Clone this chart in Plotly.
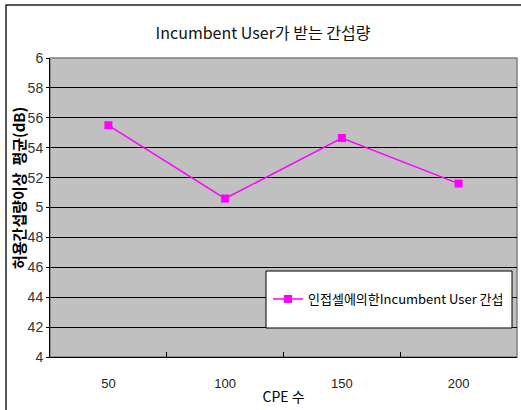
import plotly.graph_objects as go

# data
cpe_counts = ["50", "100", "150", "200"]
interference = [55.5, 50.6, 54.65, 51.6]
y_tickvals = [40, 42, 44, 46, 48, 50, 52, 54, 56, 58, 60]
y_ticktext = ["4", "42", "44", "46", "48", "5", "52", "54", "56", "58", "6"]

KR_FONT = "Noto Sans CJK KR"
NUM_FONT = "Liberation Sans Narrow, Liberation Sans, Arial"
MAGENTA = "#FF00FF"

W, H = 521, 410
L, R, T, B = 50, 4, 58, 53
PW, PH = W - L - R, H - T - B


def px_x(x):
    return (x - L) / PW


def px_y(y):
    return (H - B - y) / PH


fig = go.Figure()
fig.add_trace(go.Scatter(
    x=cpe_counts,
    y=interference,
    mode="lines+markers",
    name="인접셀에의한Incumbent User 간섭",
    line=dict(color=MAGENTA, width=1.5),
    marker=dict(symbol="square", size=8, color=MAGENTA),
))

fig.update_layout(
    width=W,
    height=H,
    margin=dict(l=L, r=R, t=T, b=B, autoexpand=False),
    paper_bgcolor="white",
    plot_bgcolor="#C0C0C0",
    font=dict(family=KR_FONT, color="#222222"),
    title=dict(
        text="Incumbent User가 받는 간섭량",
        x=263 / W, xanchor="center",
        y=1 - 33 / H, yanchor="middle",
        font=dict(family=KR_FONT, size=16, color="#111111"),
    ),
    showlegend=True,
    legend=dict(
        x=px_x(268), xanchor="left",
        y=px_y(299), yanchor="middle",
        bgcolor="rgba(0,0,0,0)",
        borderwidth=0,
        font=dict(family=KR_FONT, size=13, color="#000000"),
        itemwidth=30,
    ),
)

fig.update_xaxes(
    type="category",
    range=[-0.5, 3.5],
    automargin=False,
    tickson="boundaries",
    ticks="inside",
    ticklen=5,
    tickcolor="#000000",
    showline=True,
    linecolor="#000000",
    linewidth=1,
    showgrid=False,
    tickfont=dict(family=NUM_FONT, size=13, color="#222222"),
    ticklabelstandoff=14,
    title=dict(text="CPE 수", standoff=2,
               font=dict(family=KR_FONT, size=14, color="#000000")),
)

fig.update_yaxes(
    range=[40, 60],
    automargin=False,
    tickvals=y_tickvals,
    ticktext=y_ticktext,
    ticks="outside",
    ticklen=3,
    tickcolor="#000000",
    showline=True,
    linecolor="#000000",
    linewidth=1,
    showgrid=True,
    gridcolor="#000000",
    gridwidth=1,
    zeroline=False,
    tickfont=dict(family=NUM_FONT, size=14, color="#333333"),
)

# y axis title placed by hand to match the off-centre position
fig.add_annotation(
    text="<b>허용간섭량이상  평균(dB)</b>",
    textangle=-90,
    xref="paper", yref="paper",
    x=px_x(18), y=px_y(188),
    xanchor="center", yanchor="middle",
    showarrow=False,
    font=dict(family=KR_FONT, size=15, color="#000000"),
)

# plot-area border (top/right grey), legend box and outer chart frame
fig.add_shape(type="rect", xref="paper", yref="paper", x0=0, x1=1, y0=0, y1=1,
              line=dict(color="#808080", width=1.5), layer="below")
fig.add_shape(type="rect", xref="paper", yref="paper",
              x0=px_x(266), x1=px_x(512), y0=px_y(328), y1=px_y(271),
              fillcolor="white", line=dict(color="#000000", width=1), layer="above")
fig.add_shape(type="rect", xref="paper", yref="paper",
              x0=px_x(6), x1=px_x(540), y0=px_y(430), y1=px_y(5),
              line=dict(color="#222222", width=1.5), layer="above")

# the page's default body margin would push the chart 8px down and right
fig.write_html("out.html", config={"displayModeBar": False},
               post_script="document.body.style.margin = '0';")
